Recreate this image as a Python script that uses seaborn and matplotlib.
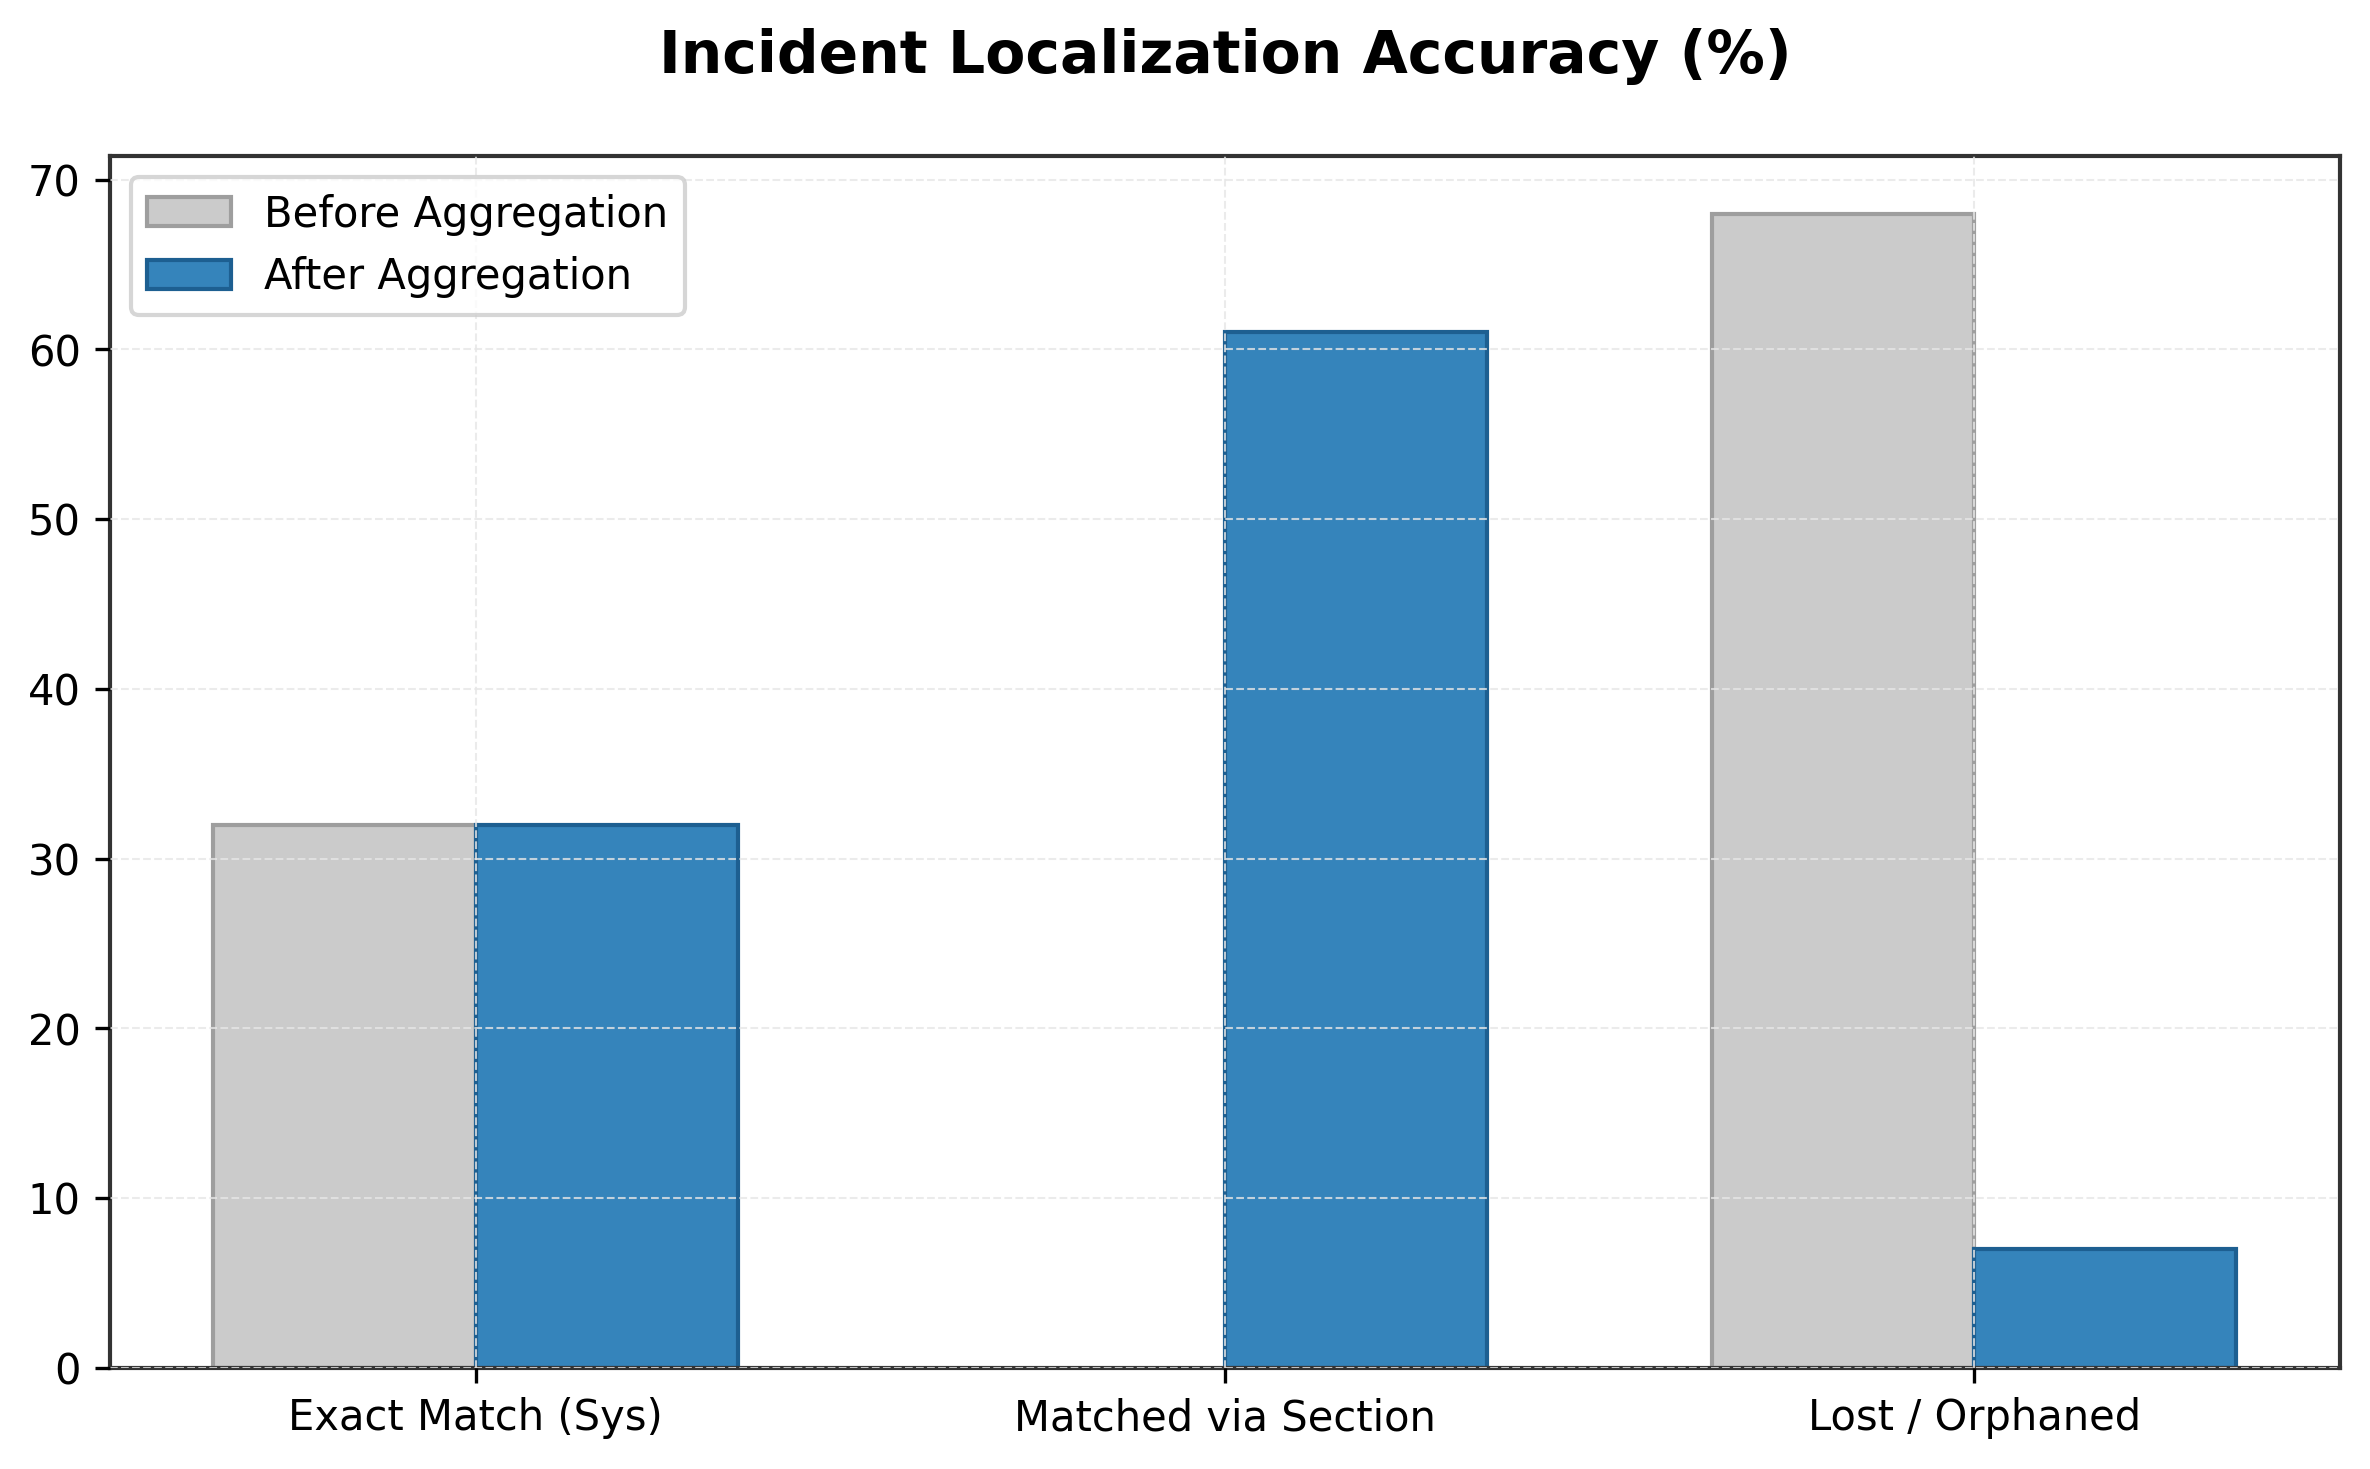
import pandas as pd
import matplotlib
matplotlib.use("Agg")
import matplotlib.pyplot as plt
import seaborn as sns

# Data
categories = ["Exact Match (Sys)", "Matched via Section", "Lost / Orphaned"]
before = [32, 0, 68]
after = [32, 61, 7]
series_names = ["Before Aggregation", "After Aggregation"]

df = pd.DataFrame({
    "category": categories * 2,
    "value": before + after,
    "stage": [series_names[0]] * len(categories) + [series_names[1]] * len(categories),
})

fill_colors = {"Before Aggregation": "#cbcbcb", "After Aggregation": "#3584bb"}
edge_colors = ["#9e9e9e", "#1d5f91"]

fig, ax = plt.subplots(figsize=(7.9, 4.897), dpi=300)

sns.barplot(data=df, x="category", y="value", hue="stage", order=categories,
            hue_order=series_names, palette=fill_colors, width=0.7,
            saturation=1, linewidth=1.0, ax=ax)

# set edge colours per series
for cont, ec in zip(ax.containers, edge_colors):
    for bar in cont:
        bar.set_edgecolor(ec)
        if bar.get_height() == 0:
            bar.set_visible(False)

ax.set_xlim(-0.488, 2.488)
ax.set_xlabel("")
ax.set_ylabel("")
ax.set_title("Incident Localization Accuracy (%)", fontsize=14, fontweight="bold", pad=20)
ax.tick_params(axis="both", labelsize=10)

ax.set_axisbelow(False)
ax.grid(True, linestyle="--", linewidth=0.5, color="#e6e6e6", alpha=0.8)

for sp in ax.spines.values():
    sp.set_color("#333333")
    sp.set_linewidth(1.0)

leg = ax.legend(loc="upper left", fontsize=10)
for h, ec in zip(leg.legend_handles, edge_colors):
    h.set_edgecolor(ec)

fig.subplots_adjust(left=0.0464, right=0.9873, top=0.8938, bottom=0.0688)
plt.savefig("out.png", dpi=300)
plt.close()
